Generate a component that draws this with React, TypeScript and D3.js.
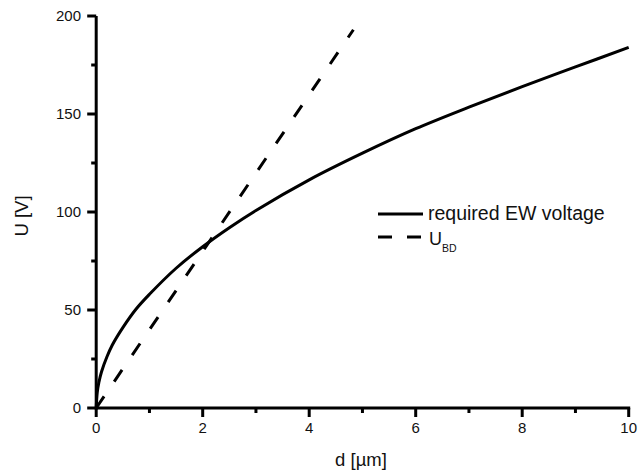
import React from "react";
import * as d3 from "d3";

const W = 638;
const H = 475;

// Required electrowetting voltage vs thickness
const ewD = [0, 0.02, 0.05, 0.1, 0.2, 0.3, 0.5, 0.75, 1, 1.5, 2, 2.5, 3, 4, 5, 6, 7, 8, 9, 10];
const ewU = [0, 8, 13, 18.5, 26, 32, 41, 50.5, 58, 71.3, 82.3, 92, 100.8, 116.4, 130, 142.5, 153.5, 164, 174, 184];

// Breakdown voltage (dashed)
const bdD = [0, 4.83];
const bdU = [0, 193];

const xMajor = [0, 2, 4, 6, 8, 10];
const xMinor = [1, 3, 5, 7, 9];
const yMajor = [0, 50, 100, 150, 200];
const yMinor = [25, 75, 125, 175];

const FONT = "'Liberation Sans', Arial, Helvetica, sans-serif";

export default function App() {
  const x = d3.scaleLinear().domain([0, 10]).range([96.2, 628.7]);
  const y = d3.scaleLinear().domain([0, 200]).range([408, 16]);

  const line = d3
    .line<[number, number]>()
    .x((p) => x(p[0]))
    .y((p) => y(p[1]))
    .curve(d3.curveCatmullRom.alpha(0.5));
  const straight = d3
    .line<[number, number]>()
    .x((p) => x(p[0]))
    .y((p) => y(p[1]));

  const ew: [number, number][] = ewD.map((d, i) => [d, ewU[i]]);
  const bd: [number, number][] = bdD.map((d, i) => [d, bdU[i]]);

  const x0 = x(0);
  const y0 = y(0);

  return (
    <svg
      width={W}
      height={H}
      style={{ position: "absolute", left: 0, top: 0, display: "block", background: "#fff" }}
      fontFamily={FONT}
    >
      <rect x={0} y={0} width={W} height={H} fill="#fff" />
      {/* curves */}
      <path d={line(ew) || ""} fill="none" stroke="#000" strokeWidth={3} />
      <path
        d={straight(bd) || ""}
        fill="none"
        stroke="#000"
        strokeWidth={3}
        strokeDasharray="14 18"
      />

      {/* axes */}
      <line x1={x0} x2={x(10) + 1.5} y1={y0} y2={y0} stroke="#000" strokeWidth={3} />
      <line x1={x0} x2={x0} y1={y0 + 1.5} y2={y(200)} stroke="#000" strokeWidth={3} />

      {xMajor.map((v) => (
        <g key={"xm" + v}>
          <line x1={x(v)} x2={x(v)} y1={y0} y2={y0 + 9} stroke="#000" strokeWidth={3} />
          <text x={x(v)} y={433} textAnchor="middle" fontSize={15} fill="#111">
            {v}
          </text>
        </g>
      ))}
      {xMinor.map((v) => (
        <line key={"xn" + v} x1={x(v)} x2={x(v)} y1={y0} y2={y0 + 5} stroke="#000" strokeWidth={3} />
      ))}
      {yMajor.map((v) => (
        <g key={"ym" + v}>
          <line x1={x0 - 9} x2={x0} y1={y(v)} y2={y(v)} stroke="#000" strokeWidth={3} />
          <text x={81} y={y(v) + 5.3} textAnchor="end" fontSize={15} fill="#111">
            {v}
          </text>
        </g>
      ))}
      {yMinor.map((v) => (
        <line key={"yn" + v} x1={x0 - 5} x2={x0} y1={y(v)} y2={y(v)} stroke="#000" strokeWidth={3} />
      ))}

      {/* axis labels */}
      <text x={361} y={466} textAnchor="middle" fontSize={18.5} fill="#111">
        d [µm]
      </text>
      <text
        transform={`translate(28,${216}) rotate(-90)`}
        textAnchor="middle"
        fontSize={18.5}
        fill="#111"
      >
        U [V]
      </text>

      {/* legend */}
      <line x1={378} x2={423} y1={214} y2={214} stroke="#000" strokeWidth={3} />
      <text x={428} y={220} fontSize={19.5} fill="#111">
        required EW voltage
      </text>
      <line
        x1={378}
        x2={421}
        y1={237}
        y2={237}
        stroke="#000"
        strokeWidth={3}
        strokeDasharray="14 15"
      />
      <text x={429} y={245} fontSize={18} fill="#111">
        U
        <tspan fontSize={10.5} dy={7}>
          BD
        </tspan>
      </text>
    </svg>
  );
}
